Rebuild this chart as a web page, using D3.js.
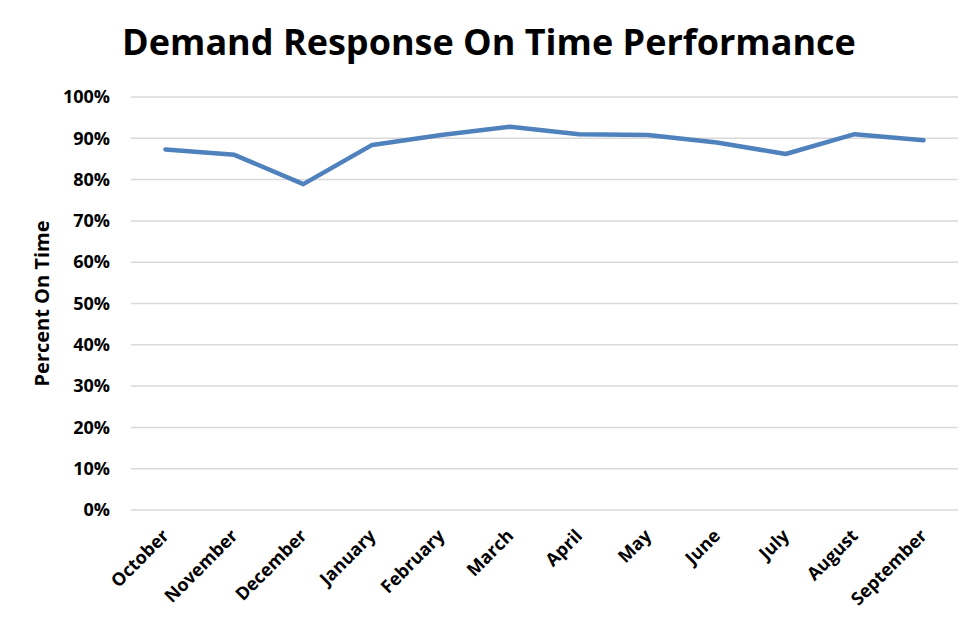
<!DOCTYPE html>
<html>
<head>
<meta charset="utf-8">
<script src="https://cdn.jsdelivr.net/npm/d3@7"></script>
<style>
  body { margin: 0; background: #fff; }
  text { font-family: "Open Sans", sans-serif; font-weight: bold; fill: #000; }
</style>
</head>
<body>
<div id="chartContainer"></div>
<script>
// Chart data
const months = ["October", "November", "December", "January", "February", "March",
                "April", "May", "June", "July", "August", "September"];
const onTime = [0.873, 0.860, 0.789, 0.884, 0.908, 0.928,
                0.910, 0.908, 0.890, 0.862, 0.910, 0.895];
const yTicks = [0, 0.1, 0.2, 0.3, 0.4, 0.5, 0.6, 0.7, 0.8, 0.9, 1.0];

const svgWidth = 978;
const svgHeight = 622;
const margin = { top: 97, right: 20, bottom: 112, left: 131 };

const svg = d3.select("#chartContainer")
              .append("svg")
              .attr("width", svgWidth)
              .attr("height", svgHeight);

// Scales
const xScale = d3.scalePoint()
                 .domain(months)
                 .range([margin.left, svgWidth - margin.right])
                 .padding(0.5);

const yScale = d3.scaleLinear()
                 .domain([0, 1])
                 .range([svgHeight - margin.bottom, margin.top]);

// Gridlines
svg.append("g")
   .selectAll("line")
   .data(yTicks)
   .enter()
   .append("line")
   .attr("x1", margin.left)
   .attr("x2", svgWidth - margin.right)
   .attr("y1", d => yScale(d))
   .attr("y2", d => yScale(d))
   .attr("stroke", "#d9d9d9")
   .attr("stroke-width", 1.5);

// Y axis (labels only)
const yAxis = svg.append("g")
   .attr("transform", `translate(${margin.left - 21}, 0)`)
   .call(d3.axisLeft(yScale).tickValues(yTicks).tickFormat(d3.format(".0%")).tickSize(0).tickPadding(0));
yAxis.select(".domain").remove();
yAxis.selectAll("text")
     .style("font-size", "18px")
     .style("font-family", "'Open Sans', sans-serif")
     .style("font-weight", "bold")
     .attr("fill", "#000");

// X axis (labels only, rotated)
const xAxis = svg.append("g")
   .attr("transform", `translate(0, ${svgHeight - margin.bottom})`)
   .call(d3.axisBottom(xScale).tickSize(0).tickPadding(0));
xAxis.select(".domain").remove();
xAxis.selectAll("text")
     .style("font-size", "18px")
     .style("font-family", "'Open Sans', sans-serif")
     .style("font-weight", "bold")
     .attr("fill", "#000")
     .attr("text-anchor", "end")
     .attr("dy", null)
     .attr("y", 0)
     .attr("transform", "translate(4, 27) rotate(-45)");

// Line
const line = d3.line()
               .x((d, i) => xScale(months[i]))
               .y(d => yScale(d));

svg.append("path")
   .datum(onTime)
   .attr("fill", "none")
   .attr("stroke", "#4f81bd")
   .attr("stroke-width", 4.5)
   .attr("stroke-linejoin", "round")
   .attr("stroke-linecap", "round")
   .attr("d", line);

// Title
svg.append("text")
   .attr("x", 489)
   .attr("y", 55)
   .attr("text-anchor", "middle")
   .style("font-size", "36px")
   .text("Demand Response On Time Performance");

// Y axis title
svg.append("text")
   .attr("transform", `translate(49, ${yScale(0.5)}) rotate(-90)`)
   .attr("text-anchor", "middle")
   .style("font-size", "20px")
   .text("Percent On Time");
</script>
</body>
</html>
